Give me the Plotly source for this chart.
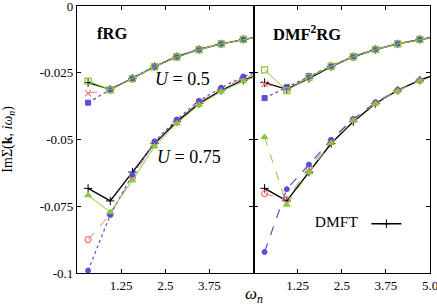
import plotly.graph_objects as go

# Matsubara frequencies (beta = 10); last point lies beyond the axis range
omega = [0.314, 0.942, 1.571, 2.199, 2.827, 3.456, 4.084, 4.712, 5.341]

# DMFT reference (same in both panels)
dmft_u05 = [-0.0287, -0.0312, -0.0271, -0.0227, -0.0190, -0.0163, -0.0142, -0.0125, -0.0110]
dmft_u075 = [-0.0683, -0.0730, -0.0622, -0.0515, -0.0433, -0.0365, -0.0316, -0.0278, -0.0248]

# fRG panel
frg_green_u05 = [-0.0281, -0.0314, -0.0272, -0.0228, -0.0191, -0.0164, -0.0142, -0.0125, -0.0111]
frg_red_u05 = [-0.0327, -0.0313, -0.0271, -0.0227, -0.0190, -0.0163, -0.0142, -0.0125, -0.0110]
frg_blue_u05 = [-0.0362, -0.0313, -0.0270, -0.0226, -0.0189, -0.0162, -0.0141, -0.0124, -0.0110]
frg_green_u075 = [-0.0709, -0.0772, -0.0653, -0.0526, -0.0440, -0.0370, -0.0320, -0.0281, -0.0250]
frg_red_u075 = [-0.0875, -0.0780, -0.0640, -0.0512, -0.0430, -0.0360, -0.0311, -0.0270, -0.0242]
frg_blue_u075 = [-0.0991, -0.0782, -0.0632, -0.0507, -0.0425, -0.0355, -0.0306, -0.0264, -0.0236]

# DMF2RG panel
dmf_green_u05 = [-0.0239, -0.0317, -0.0267, -0.0226, -0.0190, -0.0163, -0.0142, -0.0125, -0.0111]
dmf_red_u05 = [-0.0292, -0.0311, -0.0265, -0.0225, -0.0189, -0.0163, -0.0142, -0.0125, -0.0110]
dmf_blue_u05 = [-0.0345, -0.0304, -0.0262, -0.0224, -0.0189, -0.0162, -0.0141, -0.0124, -0.0110]
dmf_green_u075 = [-0.0491, -0.0744, -0.0623, -0.0513, -0.0428, -0.0365, -0.0318, -0.0280, -0.0250]
dmf_red_u075 = [-0.0703, -0.0725, -0.0607, -0.0505, -0.0426, -0.0363, -0.0316, -0.0279, -0.0249]
dmf_blue_u075 = [-0.0921, -0.0686, -0.0594, -0.0501, -0.0423, -0.0361, -0.0315, -0.0278, -0.0248]

y_ticks = [0, -0.025, -0.05, -0.075, -0.1]
y_ticklabels = ["0", "-0.025", "-0.05", "-0.075", "-0.1"]
x_ticks_left = [1.25, 2.5, 3.75]
x_ticks_right = [1.25, 2.5, 3.75, 5.0]
x_ticklabels_right = ["1.25", "2.5", "3.75", "5.0"]

BLACK = "#000000"
RED = "#f07878"
BLUE = "#5a4ed6"
GREEN = "#8cc43c"
FONT = "Liberation Serif"

fig = go.Figure()


def add(y, color, dash, symbol, xa, ya, width=1.0, size=5, name=None, legend=False, mline=1):
    fig.add_trace(go.Scatter(
        x=omega, y=y, xaxis=xa, yaxis=ya, mode="lines+markers",
        line=dict(color=color, width=width, dash=dash),
        marker=dict(symbol=symbol, size=size, color=color, line=dict(color=color, width=mline)),
        name=name if name else "", showlegend=legend, cliponaxis=True,
    ))


for xa, ya, g05, r05, b05, g075, r075, b075, gdash, bdash in [
    ("x", "y", frg_green_u05, frg_red_u05, frg_blue_u05, frg_green_u075, frg_red_u075, frg_blue_u075, "solid", "dot"),
    ("x2", "y2", dmf_green_u05, dmf_red_u05, dmf_blue_u05, dmf_green_u075, dmf_red_u075, dmf_blue_u075, "dash", "dash"),
]:
    add(dmft_u05, BLACK, "solid", "cross-thin", xa, ya, width=1.4, size=6, mline=1)
    add(dmft_u075, BLACK, "solid", "cross-thin", xa, ya, width=1.4, size=6, mline=1,
        name=" ", legend=(xa == "x2"))
    add(r05, RED, "dash", "x-thin", xa, ya, size=6, mline=1.2)
    add(b05, BLUE, "dot", "square", xa, ya, size=5, width=1.3)
    add(g05, GREEN, "solid", "square-open", xa, ya, size=6, mline=1.3)
    add(r075, RED, "dash", "circle-open", xa, ya, size=6, mline=1.2)
    add(b075, BLUE, bdash, "circle", xa, ya, size=5, width=1.2)
    add(g075, GREEN, gdash, "triangle-up", xa, ya, size=6)

axis_common = dict(range=[0, 5], showline=True, linecolor="black", linewidth=1.2, mirror="ticks",
                   ticks="inside", ticklen=4, tickcolor="black", tickwidth=1, showgrid=False,
                   zeroline=False, automargin=False, ticklabeloverflow="allow",
                   tickfont=dict(family=FONT, size=13, color="black"))
yaxis_common = dict(range=[-0.1, 0], showline=True, linecolor="black", linewidth=1.2, mirror="ticks",
                    ticks="inside", ticklen=4, tickcolor="black", tickwidth=1, showgrid=False,
                    zeroline=False, automargin=False, tickvals=y_ticks, ticklabeloverflow="allow",
                    tickfont=dict(family=FONT, size=13, color="black"))

fig.update_layout(
    width=437, height=307,
    margin=dict(l=77, r=7, t=6, b=34, autoexpand=False),
    paper_bgcolor="white", plot_bgcolor="white",
    font=dict(family=FONT, color="black"),
    xaxis=dict(axis_common, domain=[0, 0.5], tickvals=x_ticks_left,
               ticktext=[str(v) for v in x_ticks_left]),
    xaxis2=dict(axis_common, domain=[0.5, 1], anchor="y2", tickvals=x_ticks_right,
                ticktext=x_ticklabels_right),
    yaxis=dict(yaxis_common, ticktext=y_ticklabels),
    yaxis2=dict(yaxis_common, anchor="x2", showticklabels=False),
    legend=dict(x=0.668, y=0.183, xanchor="left", yanchor="middle", bgcolor="rgba(0,0,0,0)",
                title=dict(text="DMFT", side="left", font=dict(family=FONT, size=15.5)),
                font=dict(family=FONT, size=15.5), itemwidth=30, tracegroupgap=0),
    annotations=[
        dict(text="ImΣ(<b>k</b>, <i>iω<sub>n</sub></i>)", xref="paper", yref="paper",
             x=-0.195, y=0.5, textangle=-90, showarrow=False, xanchor="center", yanchor="middle",
             font=dict(family=FONT, size=14)),
        dict(text="<b>fRG</b>", xref="x", yref="y", x=0.5, y=-0.0103, showarrow=False,
             xanchor="left", font=dict(family=FONT, size=16.5)),
        dict(text="<b>DMF<sup>2</sup>RG</b>", xref="x2", yref="y2", x=0.5, y=-0.0103, showarrow=False,
             xanchor="left", font=dict(family=FONT, size=16.5)),
        dict(text="<i>U</i> = 0.5", xref="x", yref="y", x=2.15, y=-0.0275, showarrow=False,
             xanchor="left", font=dict(family=FONT, size=18)),
        dict(text="<i>U</i> = 0.75", xref="x", yref="y", x=2.2, y=-0.0565, showarrow=False,
             xanchor="left", font=dict(family=FONT, size=18)),
        dict(text="<i>ω<sub>n</sub></i>", xref="paper", yref="paper", x=0.5, y=-0.082, showarrow=False,
             xanchor="center", yanchor="middle", font=dict(family=FONT, size=17)),
    ],
)

fig.write_html("out.html", config={"displayModeBar": False},
               post_script="document.body.style.margin='0px';document.body.style.overflow='hidden';")
